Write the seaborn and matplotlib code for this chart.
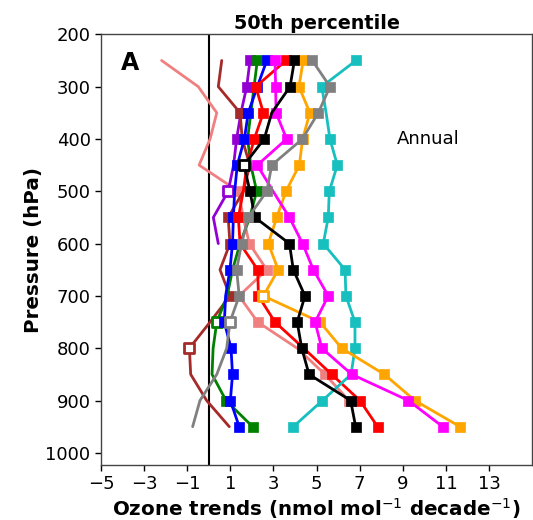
import numpy as np
import pandas as pd
import seaborn as sns
import matplotlib.pyplot as plt

nan = np.nan

# pressure levels (hPa)
levels = [250, 300, 350, 400, 450, 500, 550, 600, 650, 700, 750, 800, 850, 900, 950]

# ozone trends per region (nmol/mol/decade)
lightcoral = [-2.19, -0.49, 0.37, 0.06, -0.45, 1.37, 1.6, 1.88, 2.69, 1.4, 2.27, 4.1, 5.39, 6.5, nan]
purple = [1.91, 1.76, 1.49, 1.29, 1.15, 0.9, 0.21, 0.44, nan, nan, nan, nan, nan, nan, nan]
brown = [0.6, 0.44, 1.45, 1.55, 1.9, 1.6, 0.9, 0.98, 0.52, 0.98, 0.06, -0.9, -0.84, -0.1, 0.95]
green = [2.25, 2.1, 1.95, 1.8, 1.95, 2.22, 1.9, 1.45, 1.1, 0.85, 0.37, 0.2, 0.15, 0.8, 2.03]
blue = [2.69, 2.25, 1.83, 1.65, 1.32, 1.2, 1.14, 1.1, 0.98, 0.78, 0.72, 1.03, 1.1, 1.0, 1.41]
red = [3.58, 2.18, 2.53, 2.11, 1.77, 1.6, 1.37, 1.45, 2.27, 2.3, 3.07, 4.4, 5.7, 7.01, 7.83]
cyan = [6.83, 5.24, 5.44, 5.62, 5.96, 5.59, 5.54, 5.31, 6.32, 6.36, 6.78, 6.78, 6.6, 5.27, 3.92]
orange = [4.38, 4.18, 4.69, 4.35, 4.2, 3.58, 3.15, 2.76, 3.22, 2.53, 5.16, 6.16, 8.14, 9.56, 11.65]
magenta = [3.07, 3.1, 3.12, 3.61, 2.25, 2.98, 3.74, 4.35, 4.85, 5.54, 4.93, 5.24, 6.63, 9.26, 10.85]
black = [3.97, 3.77, 2.92, 2.57, 1.63, 1.91, 2.14, 3.74, 3.92, 4.46, 4.1, 4.31, 4.65, 6.58, 6.81]
gray = [4.8, 5.62, 5.08, 4.34, 2.92, 2.69, 1.83, 1.52, 1.29, 1.41, 0.98, 0.83, 0.37, -0.41, -0.75]

# significance per level: S = significant, N = not significant, - = no marker
sig = {
    "lightcoral": "-----SSSS-S-SS-",
    "purple":     "SSSS-N---------",
    "brown":      "--S---SS-S-N---",
    "green":      "S----S----N--SS",
    "blue":       "SSSSS-SSS-SSSSS",
    "red":        "SSSS--S-SSS-SSS",
    "cyan":       "SS-SSSSSSSSS-SS",
    "orange":     "SSSSSSSSSNSSSSS",
    "magenta":    "SSSSS-SSSSSSSSS",
    "black":      "SS-SNSSSSSSSSSS",
    "gray":       "SSSSSSSSSSN----",
}

series = {
    "lightcoral": lightcoral, "purple": purple, "brown": brown, "green": green,
    "blue": blue, "red": red, "cyan": cyan, "orange": orange,
    "magenta": magenta, "black": black, "gray": gray,
}
colors = {"lightcoral": "#f08080", "purple": "#9400d3", "brown": "#a52a2a",
          "green": "green", "blue": "blue", "red": "red", "cyan": "#17bfbf",
          "orange": "orange", "magenta": "magenta", "black": "black", "gray": "gray"}

sns.set_theme(style="ticks", rc={"text.color": "black", "axes.labelcolor": "black",
                                 "xtick.color": "black", "ytick.color": "black"})
plt.rcParams["font.family"] = ["DejaVu Sans"]

fig = plt.figure(figsize=(5.33, 5.2), dpi=100)
ax = fig.add_axes([0.1895, 0.106, 0.809, 0.828])

ax.axvline(0, color="black", lw=1.5, zorder=1)

z = 2
for name, vals in series.items():
    df = pd.DataFrame({"x": vals, "p": levels, "s": list(sig[name])}).dropna()
    col = colors[name]
    sns.lineplot(data=df, x="x", y="p", orient="y", sort=False, color=col,
                 lw=2, ax=ax, zorder=z)
    filled = df[df.s == "S"]
    hollow = df[df.s == "N"]
    if len(filled):
        sns.scatterplot(data=filled, x="x", y="p", marker="s", s=55,
                        color=col, edgecolor=col, linewidth=0.5, ax=ax, zorder=z + 0.5)
    if len(hollow):
        sns.scatterplot(data=hollow, x="x", y="p", marker="s", s=45,
                        facecolor="white", edgecolor=col, linewidth=2, ax=ax, zorder=z + 0.5)
    z += 1

ax.set_xlim(-5, 15)
ax.set_ylim(1023, 200)
ax.set_xticks(range(-5, 14, 2))
ax.set_yticks(range(200, 1001, 100))
ax.tick_params(labelsize=13, length=4, width=1)
for sp in ax.spines.values():
    sp.set_color("#444444")
    sp.set_linewidth(1)

ax.text(-4.1, 255, "A", fontsize=17, fontweight="bold", va="center")
ax.text(10.2, 400, "Annual", fontsize=13, ha="center", va="center")

ax.set_title("50th percentile", fontsize=13.8, fontweight="bold", pad=4)
ax.set_xlabel("Ozone trends (nmol mol$^{-1}$ decade$^{-1}$)", fontsize=14.3,
              fontweight="bold", labelpad=2)
ax.set_ylabel("Pressure (hPa)", fontsize=14.3, fontweight="bold", labelpad=2)

fig.savefig("out.png", dpi=100)
